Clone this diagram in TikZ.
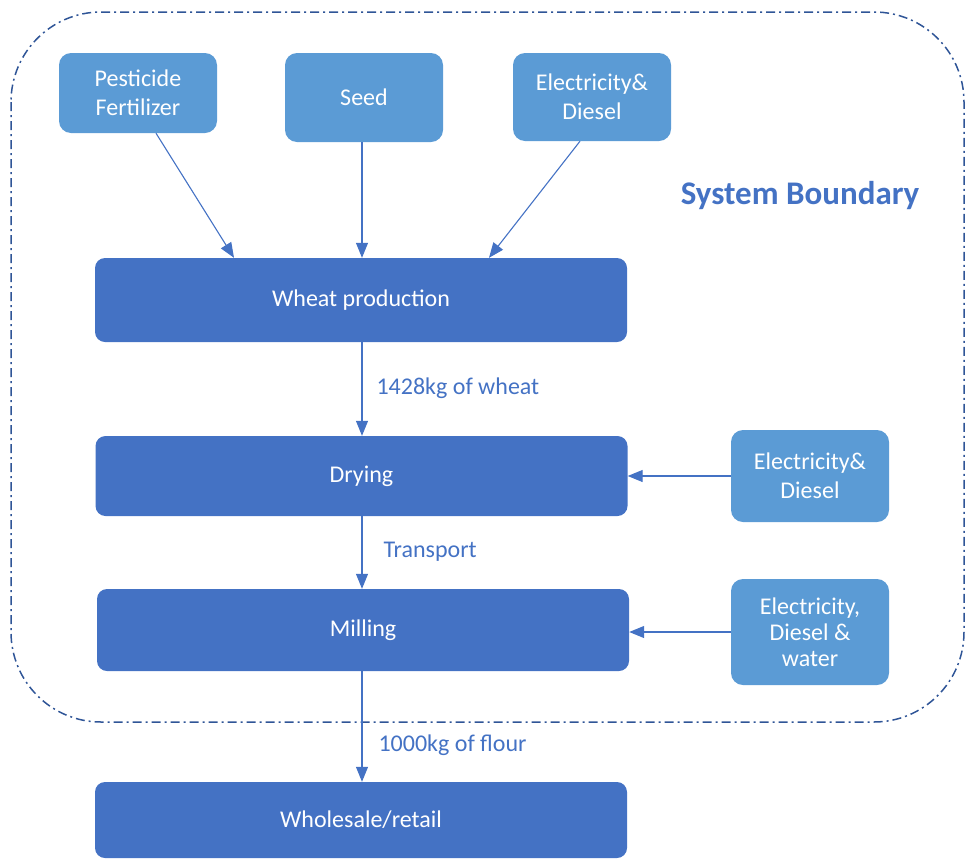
\documentclass[tikz,border=0pt]{standalone}
\usepackage{fontspec}
\setmainfont{Carlito}
\usepackage{tikz}
\usetikzlibrary{arrows.meta}

\definecolor{procblue}{HTML}{4472C4}
\definecolor{inblue}{HTML}{5B9BD5}
\definecolor{edgeblue}{HTML}{4472C4}
\definecolor{boundblue}{HTML}{2F5597}

\begin{document}
\begin{tikzpicture}[x=1pt,y=1pt]
\tikzset{process/.style = {draw=none,fill=procblue,rounded corners=10pt,text=white,
  minimum width=532pt,font=\fontsize{24}{29}\selectfont}}
\tikzset{input/.style = {draw=none,fill=inblue,rounded corners=12pt,text=white,align=center,
  minimum width=158pt,font=\fontsize{24}{29}\selectfont}}
\tikzset{flow/.style = {draw=edgeblue,line width=1.1pt,-{Triangle[length=15pt,width=12pt]}}}
\tikzset{flowlabel/.style = {text=edgeblue,anchor=west,font=\fontsize{24}{29}\selectfont}}
\useasboundingbox (0,0) rectangle (967,-860);

% system boundary
\draw[boundblue,line width=1.5pt,rounded corners=90pt,
  dash pattern=on 9pt off 4pt on 2pt off 4pt] (11,-12) rectangle (964,-722);
\node[text=procblue,font=\bfseries\fontsize{33}{40}\selectfont] (sysb) at (800,-196) {System Boundary};

% inputs
\node[input,minimum height=80pt] (pest) at (138,-93) {Pesticide\\Fertilizer};
\node[input,minimum height=89pt] (seed) at (364,-97.5) {Seed};
\node[input,minimum height=88pt] (elecA) at (592,-97) {Electricity\&\\Diesel};
\node[input,minimum height=92pt] (elecB) at (810,-476) {Electricity\&\\Diesel};
\node[input,minimum height=106pt,font=\fontsize{24}{26}\selectfont] (elecC) at (810,-632) {Electricity,\\Diesel \&\\water};

% process chain
\node[process,minimum height=84pt] (wheat) at (361,-300) {Wheat production};
\node[process,minimum height=80pt] (dry) at (361.5,-476) {Drying};
\node[process,minimum height=82pt] (mill) at (363,-630) {Milling};
\node[process,minimum height=76pt] (sale) at (361,-820) {Wholesale/retail};

\draw[flow] ([xshift=18pt]pest.south) -- ([xshift=-127pt]wheat.north);
\draw[flow] ([xshift=-2pt]seed.south) -- ([xshift=1pt]wheat.north);
\draw[flow] ([xshift=-12pt]elecA.south) -- ([xshift=128pt]wheat.north);

\draw[flow] ([xshift=1pt]wheat.south) -- ([xshift=0.5pt]dry.north);
\draw[flow] ([xshift=0.5pt]dry.south) -- ([xshift=-1pt]mill.north);
\draw[flow] ([xshift=-1pt]mill.south) -- ([xshift=1pt]sale.north);
\draw[flow] (elecB.west) -- (dry.east |- elecB.west);
\draw[flow] (elecC.west) -- (mill.east |- elecC.west);

\node[flowlabel] (wlab) at (373,-388) {1428kg of wheat};
\node[flowlabel] (tlab) at (380,-552) {Transport};
\node[flowlabel] (flab) at (375,-745) {1000kg of flour};
\end{tikzpicture}
\end{document}
